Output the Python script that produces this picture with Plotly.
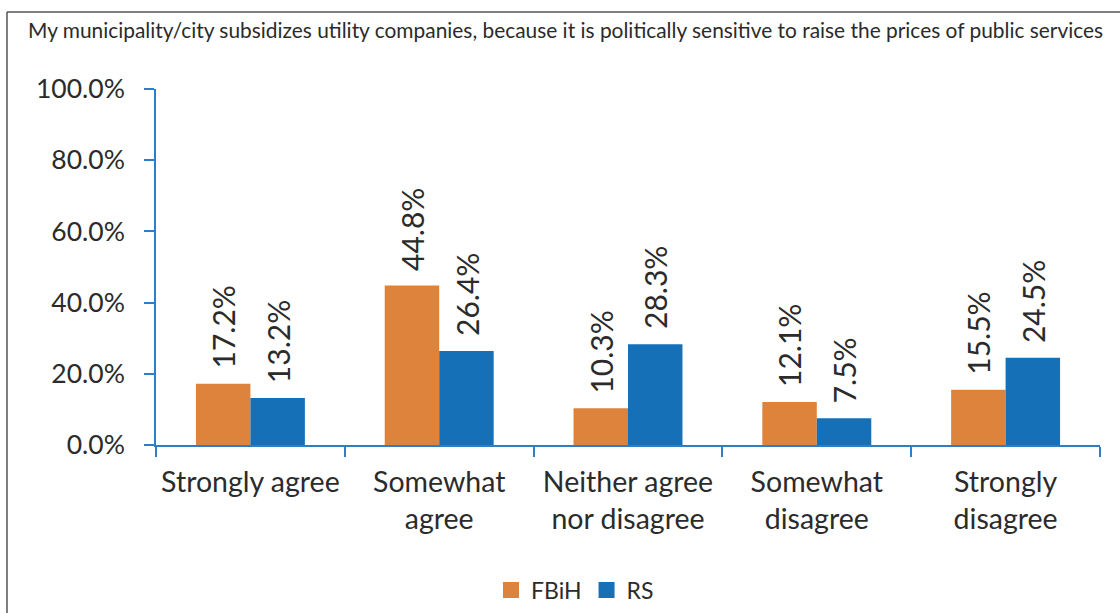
import plotly.graph_objects as go

categories = ["Strongly agree", "Somewhat<br>agree", "Neither agree<br>nor disagree",
              "Somewhat<br>disagree", "Strongly<br>disagree"]
fbih = [17.2, 44.8, 10.3, 12.1, 15.5]
rs = [13.2, 26.4, 28.3, 7.5, 24.5]
series_names = ["FBiH", "RS"]
tick_vals = [0, 20, 40, 60, 80, 100]
tick_text = ["0.0%", "20.0%", "40.0%", "60.0%", "80.0%", "100.0%"]
title_text = ("My municipality/city subsidizes utility companies, because it is "
              "politically sensitive to raise the prices of public services")

W, H = 1120, 613
L, R, T, B = 156, 20, 89, 168
ORANGE = "#DD833B"
BLUE = "#1570B8"
AXIS = "#2E7DC6"
TXT = "#2B2B2B"
FONT = "Lato"
colors = [ORANGE, BLUE]

fig = go.Figure()
for name, vals, col in zip(series_names, (fbih, rs), colors):
    fig.add_trace(go.Bar(x=categories, y=vals, name=name, marker_color=col,
                         marker_line_width=0, showlegend=False))
    # legend entry drawn as a larger square swatch
    fig.add_trace(go.Scatter(x=[None], y=[None], mode="markers", name=name,
                             marker=dict(symbol="square", size=18, color=col)))

# rotated value labels above each bar
pw = W - L - R
half_bar = pw / len(categories) * (1 - 0.423) / 4
for vals, shift in ((fbih, -half_bar), (rs, half_bar)):
    for c, v in zip(categories, vals):
        fig.add_annotation(x=c, y=v, xref="x", yref="y", text=f"{v:.1f}%",
                           textangle=-90, showarrow=False, xshift=shift,
                           yanchor="bottom", yshift=13,
                           font=dict(family=FONT, size=30, color=TXT))

# frame lines around the chart
def px_x(p):
    return (p - L) / pw

def px_y(p):
    return (H - B - p) / (H - T - B)

fig.add_shape(type="line", xref="paper", yref="paper",
              x0=px_x(7), x1=px_x(W + 5), y0=px_y(12), y1=px_y(12),
              line=dict(color="#555555", width=1.5))
fig.add_shape(type="line", xref="paper", yref="paper",
              x0=px_x(7), x1=px_x(7), y0=px_y(12), y1=px_y(H + 5),
              line=dict(color="#555555", width=1.5))

fig.update_layout(
    width=W, height=H,
    margin=dict(l=L, r=R, t=T, b=B, autoexpand=False),
    paper_bgcolor="white", plot_bgcolor="white",
    barmode="group", bargap=0.423, bargroupgap=0,
    title=dict(text=title_text, xref="container", yref="container",
               x=28 / W, xanchor="left", y=1 - 31 / H, yanchor="middle",
               font=dict(family=FONT, size=20.9, color=TXT)),
    legend=dict(orientation="h", xref="paper", yref="paper",
                x=px_x(575), xanchor="center", y=px_y(590), yanchor="middle",
                font=dict(family=FONT, size=23, color=TXT)),
    xaxis=dict(showline=True, linecolor=AXIS, linewidth=1.5,
               ticks="outside", tickson="boundaries", ticklen=10,
               tickcolor=AXIS, tickwidth=1.5, ticklabelstandoff=11,
               tickfont=dict(family=FONT, size=28.5, color=TXT)),
    yaxis=dict(range=[0, 100], tickvals=tick_vals, ticktext=tick_text,
               showgrid=False, zeroline=False, showline=True,
               linecolor=AXIS, linewidth=1.5, ticks="outside", ticklen=10,
               tickcolor=AXIS, tickwidth=1.5, ticklabelstandoff=14,
               tickfont=dict(family=FONT, size=26.5, color=TXT)),
)

fig.write_html("out.html")
